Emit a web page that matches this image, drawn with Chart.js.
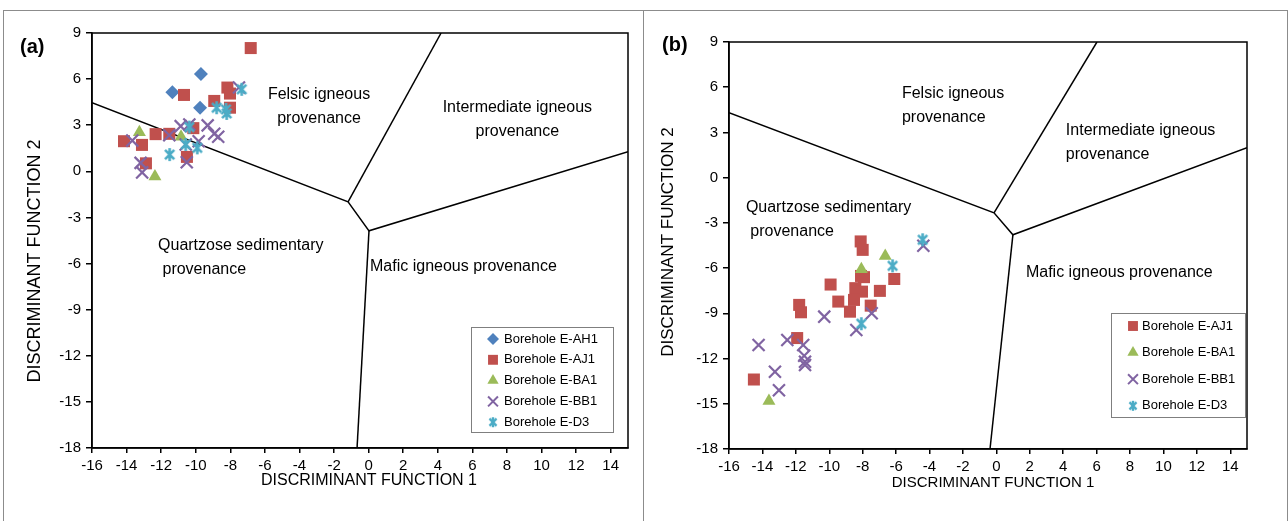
<!DOCTYPE html>
<html>
<head>
<meta charset="utf-8">
<script src="https://cdn.jsdelivr.net/npm/chart.js@4.4.0/dist/chart.umd.min.js"></script>
<style>
    body { margin: 0; background: #fff; }
    #wrap { position: relative; width: 1288px; height: 521px; overflow: hidden; background: #fff; }
    .frame { position: absolute; top: 10px; height: 520px; border: 1px solid #8c8c8c; }
    canvas { position: absolute; top: 0; }
</style>
</head>
<body>
<div id="wrap">
    <div class="frame" style="left:3px;width:639px"></div>
    <div class="frame" style="left:643px;width:643px"></div>
    <canvas id="chartA" width="643" height="521" style="left:0"></canvas>
    <canvas id="chartB" width="643" height="521" style="left:645px"></canvas>
</div>
<script>
// ticks de los ejes
const xTicks = [-16, -14, -12, -10, -8, -6, -4, -2, 0, 2, 4, 6, 8, 10, 12, 14];
const yTicks = [-18, -15, -12, -9, -6, -3, 0, 3, 6, 9];

// panel (a) - valores [DF1, DF2]
const aAH1 = [[-9.70, 6.34], [-11.35, 5.14], [-9.75, 4.14]];
const aAJ1 = [[-6.82, 8.02], [-10.68, 4.97], [-8.17, 5.45], [-8.02, 5.06], [-8.93, 4.58], [-8.02, 4.14],
              [-14.15, 1.96], [-13.11, 1.72], [-12.32, 2.42], [-11.53, 2.44], [-10.14, 2.81],
              [-12.88, 0.52], [-10.51, 0.94]];
const aBA1 = [[-13.26, 2.55], [-12.36, -0.33], [-10.85, 2.25]];
const aBB1 = [[-13.67, 2.0], [-11.53, 2.35], [-10.87, 2.94], [-10.37, 3.05], [-9.31, 2.99], [-8.93, 2.44],
              [-8.70, 2.25], [-9.83, 1.96], [-10.58, 1.75], [-10.52, 0.59], [-13.19, 0.55],
              [-13.10, -0.07], [-7.50, 5.45]];
const aD3  = [[-7.34, 5.34], [-8.79, 4.14], [-8.25, 4.03], [-8.21, 3.77], [-10.37, 2.88], [-10.58, 1.75],
              [-11.51, 1.09], [-9.91, 1.53]];

// panel (b)
const bAJ1 = [[-8.12, -4.23], [-8.00, -4.79], [-8.10, -6.52], [-7.92, -6.60], [-9.92, -7.09], [-8.44, -7.33],
              [-8.04, -7.56], [-6.97, -7.51], [-6.11, -6.72], [-9.46, -8.22], [-8.52, -8.11], [-8.76, -8.89],
              [-7.52, -8.49], [-11.80, -8.44], [-11.69, -8.93], [-11.92, -10.64], [-14.51, -13.39]];
const bBA1 = [[-13.61, -14.81], [-8.08, -6.07], [-6.65, -5.19]];
const bBB1 = [[-14.23, -11.10], [-12.51, -10.77], [-11.56, -11.10], [-11.50, -11.81], [-11.45, -12.21],
              [-11.45, -12.43], [-13.25, -12.88], [-13.01, -14.10], [-10.30, -9.22], [-8.38, -10.11],
              [-7.46, -9.00], [-4.37, -4.52]];
const bD3  = [[-4.41, -4.12], [-6.21, -5.85], [-8.08, -9.69]];

// limites de los campos de procedencia
const aLimites = [
    [[-16, 4.46], [-1.19, -1.98], [0.02, -3.87], [15, 1.27]],
    [[-1.19, -1.98], [4.19, 9]],
    [[0.02, -3.87], [-0.67, -18]]
];
const bLimites = [
    [[-16, 4.31], [-0.14, -2.33], [0.99, -3.79], [15, 1.98]],
    [[-0.14, -2.33], [6.02, 9]],
    [[0.99, -3.79], [-0.38, -18]]
];

const FONT = '"Liberation Sans", Arial, sans-serif';

function asterisco(color, size, lw) {
    const c = document.createElement('canvas');
    c.width = size; c.height = size;
    const g = c.getContext('2d');
    const m = size / 2, r = size / 2 - 1, d = r * Math.SQRT1_2;
    g.strokeStyle = color; g.lineWidth = lw;
    g.beginPath();
    g.moveTo(m, m - r); g.lineTo(m, m + r);
    g.moveTo(m - d, m - d); g.lineTo(m + d, m + d);
    g.moveTo(m - d, m + d); g.lineTo(m + d, m - d);
    g.stroke();
    return c;
}

const estilos = {
    'Borehole E-AH1': { pointStyle: 'rectRot', color: '#4F81BD', radius: 7, width: 0 },
    'Borehole E-AJ1': { pointStyle: 'rect', color: '#C0504D', radius: 8.5, width: 0 },
    'Borehole E-BA1': { pointStyle: 'triangle', color: '#9BBB59', radius: 7.5, width: 0 },
    'Borehole E-BB1': { pointStyle: 'crossRot', color: '#8064A2', radius: 8.5, width: 2.2 },
    'Borehole E-D3':  { pointStyle: asterisco('#4BACC6', 15, 2.6), color: '#4BACC6', radius: 7, width: 0 }
};
const legendMarks = {
    'Borehole E-AH1': { pointStyle: 'rectRot', radius: 6, width: 0 },
    'Borehole E-AJ1': { pointStyle: 'rect', radius: 7, width: 0 },
    'Borehole E-BA1': { pointStyle: 'triangle', radius: 6.5, width: 0 },
    'Borehole E-BB1': { pointStyle: 'crossRot', radius: 7, width: 2 },
    'Borehole E-D3':  { pointStyle: asterisco('#4BACC6', 12, 2.4), radius: 6, width: 0 }
};

// textos de las regiones, titulos y leyenda
const anotaciones = {
    id: 'anotaciones',
    beforeDatasetsDraw(chart, args, o) {
        const { ctx, chartArea: a, scales: { x, y } } = chart;
        ctx.save();
        ctx.strokeStyle = '#000';
        ctx.lineWidth = 1.5;
        ctx.strokeRect(a.left, a.top, a.right - a.left, a.bottom - a.top);
        ctx.fillStyle = '#000';
        ctx.font = '16px ' + FONT;
        ctx.textBaseline = 'middle';
        o.regiones.forEach(r => {
            ctx.textAlign = r.align;
            r.text.forEach((t, i) => ctx.fillText(t, x.getPixelForValue(r.x), y.getPixelForValue(r.y) + i * 24));
        });
        ctx.restore();
    },
    afterDraw(chart, args, o) {
        const { ctx, chartArea: a } = chart;
        ctx.save();
        ctx.fillStyle = '#000';
        ctx.textBaseline = 'middle';
        ctx.textAlign = 'left';
        ctx.font = 'bold 20px ' + FONT;
        ctx.fillText(o.panel, o.panelPos[0], o.panelPos[1]);

        ctx.textAlign = 'center';
        ctx.font = o.xTitle.size + 'px ' + FONT;
        ctx.fillText('DISCRIMINANT FUNCTION 1', o.xTitle.x, o.xTitle.y);
        ctx.save();
        ctx.translate(o.yTitle.x, o.yTitle.y);
        ctx.rotate(-Math.PI / 2);
        ctx.font = o.yTitle.size + 'px ' + FONT;
        ctx.fillText('DISCRIMINANT FUNCTION 2', 0, 0);
        ctx.restore();

        // leyenda
        const L = o.leyenda;
        const series = chart.data.datasets.filter(d => !d.esLimite);
        const right = a.right - L.right, bottom = a.bottom - L.bottom;
        const left = right - L.w, top = bottom - L.h;
        ctx.fillStyle = '#fff';
        ctx.fillRect(left, top, L.w, L.h);
        ctx.strokeStyle = '#7f7f7f';
        ctx.lineWidth = 1;
        ctx.strokeRect(left + 0.5, top + 0.5, L.w, L.h);
        ctx.font = '13px ' + FONT;
        ctx.textAlign = 'left';
        series.forEach((d, i) => {
            const cy = top + L.first + i * L.step;
            const m = legendMarks[d.label];
            ctx.fillStyle = d.backgroundColor;
            ctx.strokeStyle = d.borderColor;
            ctx.lineWidth = m.width;
            Chart.helpers.drawPoint(ctx, { pointStyle: m.pointStyle, radius: m.radius, rotation: 0, borderWidth: m.width },
                left + L.mark, cy);
            ctx.fillStyle = '#000';
            ctx.fillText(d.label, left + L.text, cy);
        });
        ctx.restore();
    }
};

function crearPanel(id, p) {
    const datasets = [];
    p.series.forEach((s, i) => {
        const e = estilos[s.name];
        datasets.push({
            label: s.name,
            data: s.data.map(([x, y]) => ({ x, y })),
            pointStyle: e.pointStyle,
            pointRadius: e.radius,
            pointHoverRadius: e.radius,
            backgroundColor: e.color,
            borderColor: e.color,
            pointBorderWidth: e.width,
            showLine: false,
            order: 10 - i
        });
    });
    p.limites.forEach(l => {
        datasets.push({
            label: 'limite',
            esLimite: true,
            data: l.map(([x, y]) => ({ x, y })),
            showLine: true,
            borderColor: '#000',
            borderWidth: 1.5,
            pointRadius: 0,
            pointHoverRadius: 0,
            order: 20
        });
    });

    const ctx = document.getElementById(id).getContext('2d');
    return new Chart(ctx, {
        type: 'scatter',
        data: { datasets },
        options: {
            responsive: false,
            animation: false,
            events: [],
            layout: { padding: { left: 0, right: p.padRight, top: p.padTop, bottom: 0 } },
            scales: {
                x: {
                    type: 'linear', min: -16, max: 15,
                    afterBuildTicks: s => { s.ticks = xTicks.map(v => ({ value: v })); },
                    afterFit: s => { s.height = p.xHeight; },
                    grid: { drawOnChartArea: false, drawTicks: true, tickLength: 5, color: '#000', lineWidth: 1.5 },
                    border: { color: '#000', width: 1.5 },
                    ticks: { color: '#000', font: { family: FONT, size: 15 }, padding: 4, maxRotation: 0, autoSkip: false }
                },
                y: {
                    type: 'linear', min: -18, max: 9,
                    afterBuildTicks: s => { s.ticks = yTicks.map(v => ({ value: v })); },
                    afterFit: s => { s.width = p.yWidth; },
                    grid: { drawOnChartArea: false, drawTicks: true, tickLength: 6, color: '#000', lineWidth: 1.5 },
                    border: { color: '#000', width: 1.5 },
                    ticks: { color: '#000', font: { family: FONT, size: 15 }, padding: 5, autoSkip: false }
                }
            },
            plugins: {
                legend: { display: false },
                tooltip: { enabled: false },
                anotaciones: p.anot
            }
        },
        plugins: [anotaciones]
    });
}

crearPanel('chartA', {
    series: [
        { name: 'Borehole E-AH1', data: aAH1 },
        { name: 'Borehole E-AJ1', data: aAJ1 },
        { name: 'Borehole E-BA1', data: aBA1 },
        { name: 'Borehole E-BB1', data: aBB1 },
        { name: 'Borehole E-D3', data: aD3 }
    ],
    limites: aLimites,
    padRight: 15, padTop: 33, xHeight: 73, yWidth: 92,
    anot: {
        panel: '(a)', panelPos: [20, 47],
        xTitle: { x: 369, y: 481, size: 16 },
        yTitle: { x: 35, y: 261, size: 18 },
        leyenda: { right: 15, bottom: 16, w: 142, h: 105, first: 12, step: 20.8, mark: 22, text: 33 },
        regiones: [
            { text: ['Felsic igneous', 'provenance'], x: -2.87, y: 4.98, align: 'center' },
            { text: ['Intermediate igneous', 'provenance'], x: 8.6, y: 4.13, align: 'center' },
            { text: ['Quartzose sedimentary', ' provenance'], x: -12.18, y: -4.85, align: 'left' },
            { text: ['Mafic igneous provenance'], x: 0.08, y: -6.21, align: 'left' }
        ]
    }
});

crearPanel('chartB', {
    series: [
        { name: 'Borehole E-AJ1', data: bAJ1 },
        { name: 'Borehole E-BA1', data: bBA1 },
        { name: 'Borehole E-BB1', data: bBB1 },
        { name: 'Borehole E-D3', data: bD3 }
    ],
    limites: bLimites,
    padRight: 41, padTop: 42, xHeight: 72, yWidth: 84,
    anot: {
        panel: '(b)', panelPos: [17, 45],
        xTitle: { x: 348, y: 483, size: 15 },
        yTitle: { x: 23, y: 242, size: 17 },
        leyenda: { right: 2, bottom: 32, w: 134, h: 104, first: 13, step: 26.6, mark: 22, text: 31 },
        regiones: [
            { text: ['Felsic igneous', 'provenance'], x: -5.65, y: 5.57, align: 'left' },
            { text: ['Intermediate igneous', 'provenance'], x: 4.16, y: 3.11, align: 'left' },
            { text: ['Quartzose sedimentary', ' provenance'], x: -14.99, y: -2.0, align: 'left' },
            { text: ['Mafic igneous provenance'], x: 1.77, y: -6.31, align: 'left' }
        ]
    }
});
</script>
</body>
</html>
